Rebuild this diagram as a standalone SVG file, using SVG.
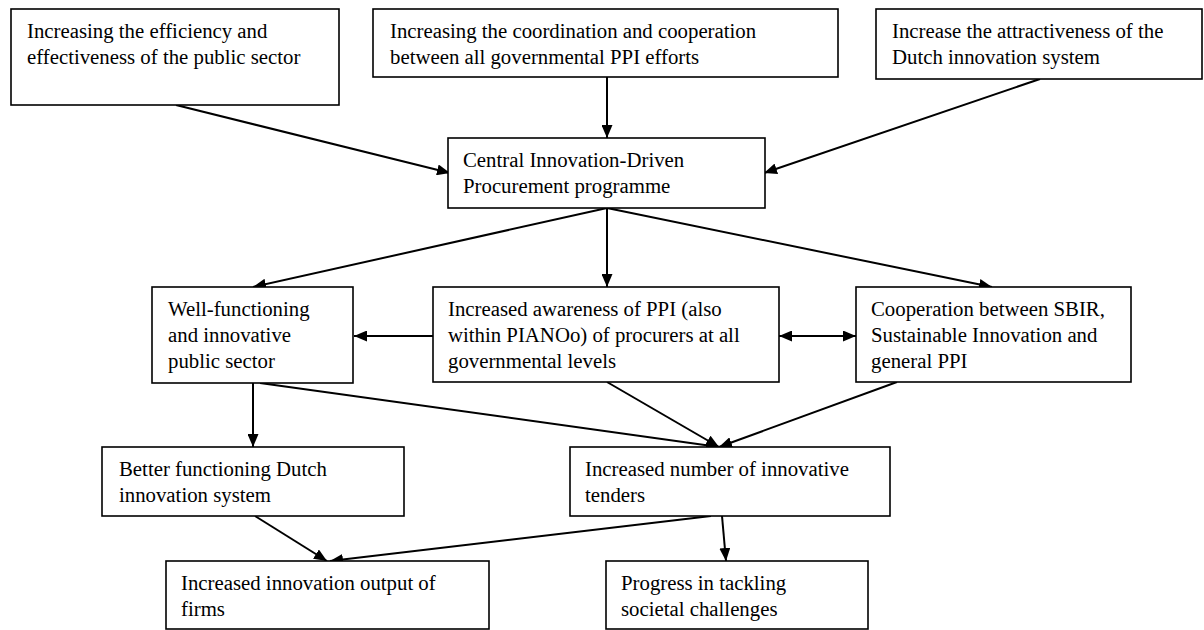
<svg xmlns="http://www.w3.org/2000/svg" width="1204" height="630" viewBox="0 0 1204 630">
  <style>
    .box { fill: #ffffff; stroke: #000000; stroke-width: 1.6; }
    .lbl { font-family: "Liberation Serif", "Times New Roman", serif; font-size: 20.8px; fill: #000000; }
    .edge { fill: none; stroke: #000000; stroke-width: 2; }
  </style>
  <defs>
    <marker id="arrow" viewBox="0 0 13 11" refX="13" refY="5.5" markerWidth="13" markerHeight="11" markerUnits="userSpaceOnUse" orient="auto-start-reverse">
      <path d="M0,0 L13,5.5 L0,11 Z" fill="#000000"/>
    </marker>
  </defs>
  <rect width="1204" height="630" fill="#ffffff"/>

  <!-- connectors -->
  <g id="connectors">
    <line class="edge" x1="176" y1="105" x2="450" y2="173" marker-end="url(#arrow)"/>
    <line class="edge" x1="607" y1="77" x2="607" y2="138" marker-end="url(#arrow)"/>
    <line class="edge" x1="1040" y1="79" x2="764" y2="173" marker-end="url(#arrow)"/>
    <line class="edge" x1="607" y1="208" x2="253" y2="287" marker-end="url(#arrow)"/>
    <line class="edge" x1="607" y1="208" x2="607" y2="287" marker-end="url(#arrow)"/>
    <line class="edge" x1="607" y1="208" x2="992" y2="287" marker-end="url(#arrow)"/>
    <line class="edge" x1="433" y1="336" x2="354" y2="336" marker-end="url(#arrow)"/>
    <line class="edge" x1="779" y1="336" x2="856" y2="336" marker-start="url(#arrow)" marker-end="url(#arrow)"/>
    <line class="edge" x1="253" y1="383" x2="253" y2="447" marker-end="url(#arrow)"/>
    <line class="edge" x1="260" y1="383" x2="719" y2="447" marker-end="url(#arrow)"/>
    <line class="edge" x1="607" y1="382" x2="719" y2="447" marker-end="url(#arrow)"/>
    <line class="edge" x1="897" y1="382" x2="719" y2="447" marker-end="url(#arrow)"/>
    <line class="edge" x1="255" y1="516" x2="327" y2="561" marker-end="url(#arrow)"/>
    <line class="edge" x1="711" y1="516" x2="330" y2="561" marker-end="url(#arrow)"/>
    <line class="edge" x1="722" y1="516" x2="726" y2="561" marker-end="url(#arrow)"/>
  </g>

  <g id="n-efficiency">
    <rect class="box" x="11" y="9" width="328" height="96"/>
    <text class="lbl" x="27" y="38">Increasing the efficiency and</text>
    <text class="lbl" x="27" y="64">effectiveness of the public sector</text>
  </g>
  <g id="n-coordination">
    <rect class="box" x="373" y="9" width="465" height="68"/>
    <text class="lbl" x="390" y="38">Increasing the coordination and cooperation</text>
    <text class="lbl" x="390" y="64">between all governmental PPI efforts</text>
  </g>
  <g id="n-attractiveness">
    <rect class="box" x="876" y="9" width="326" height="70"/>
    <text class="lbl" x="892" y="38">Increase the attractiveness of the</text>
    <text class="lbl" x="892" y="64">Dutch innovation system</text>
  </g>
  <g id="n-central">
    <rect class="box" x="448" y="138" width="317" height="70"/>
    <text class="lbl" x="463" y="167">Central Innovation-Driven</text>
    <text class="lbl" x="463" y="193">Procurement programme</text>
  </g>
  <g id="n-wellfunctioning">
    <rect class="box" x="152" y="287" width="201" height="96"/>
    <text class="lbl" x="168" y="316">Well-functioning</text>
    <text class="lbl" x="168" y="342">and innovative</text>
    <text class="lbl" x="168" y="368">public sector</text>
  </g>
  <g id="n-awareness">
    <rect class="box" x="433" y="287" width="346" height="95"/>
    <text class="lbl" x="448" y="316">Increased awareness of PPI (also</text>
    <text class="lbl" x="448" y="342">within PIANOo) of procurers at all</text>
    <text class="lbl" x="448" y="368">governmental levels</text>
  </g>
  <g id="n-cooperation">
    <rect class="box" x="856" y="287" width="275" height="95"/>
    <text class="lbl" x="871" y="316">Cooperation between SBIR,</text>
    <text class="lbl" x="871" y="342">Sustainable Innovation and</text>
    <text class="lbl" x="871" y="368">general PPI</text>
  </g>
  <g id="n-better">
    <rect class="box" x="102" y="447" width="302" height="69"/>
    <text class="lbl" x="119" y="476">Better functioning Dutch</text>
    <text class="lbl" x="119" y="502">innovation system</text>
  </g>
  <g id="n-tenders">
    <rect class="box" x="570" y="447" width="320" height="69"/>
    <text class="lbl" x="585" y="476">Increased number of innovative</text>
    <text class="lbl" x="585" y="502">tenders</text>
  </g>
  <g id="n-output">
    <rect class="box" x="166" y="561" width="323" height="68"/>
    <text class="lbl" x="181" y="590">Increased innovation output of</text>
    <text class="lbl" x="181" y="616">firms</text>
  </g>
  <g id="n-progress">
    <rect class="box" x="606" y="561" width="262" height="68"/>
    <text class="lbl" x="621" y="590">Progress in tackling</text>
    <text class="lbl" x="621" y="616">societal challenges</text>
  </g>
</svg>
